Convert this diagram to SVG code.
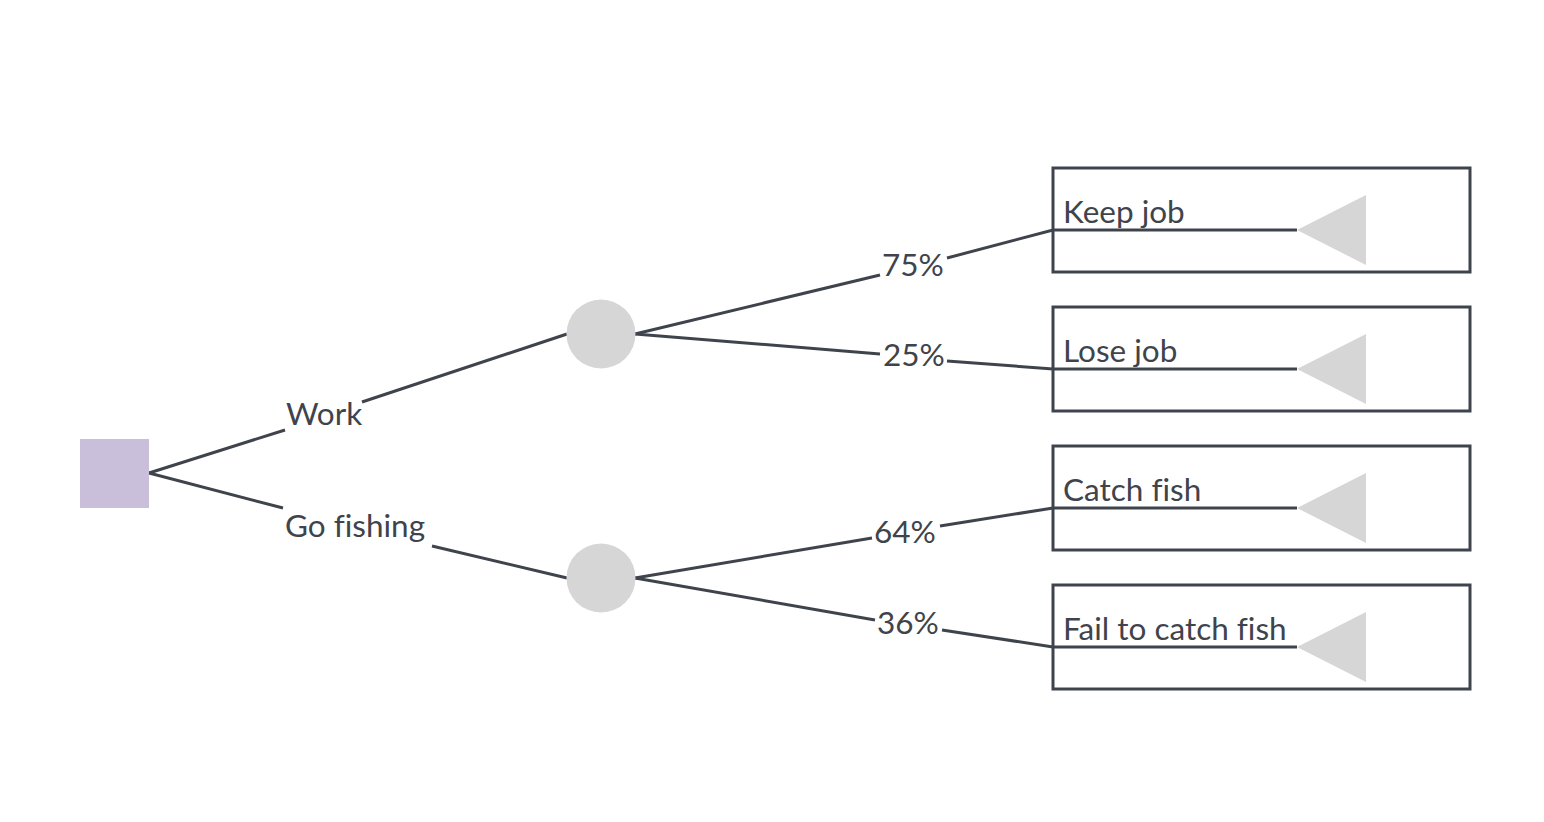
<svg xmlns="http://www.w3.org/2000/svg" width="1544" height="822" viewBox="0 0 1544 822">
<style>
.ln{fill:none;stroke:#3f444c;stroke-width:3}
.box{fill:#fff;stroke:#3f444c;stroke-width:3}
.tri{fill:#d6d6d6}
.chance{fill:#d6d6d6}
.t{font-family:Lato,"Noto Sans",sans-serif;font-size:31.5px;fill:#3f444c;font-variant-ligatures:none}
</style>
<rect width="1544" height="822" fill="#fff"/>
<g id="outcome-keep">
<rect class="box" x="1053" y="168" width="417" height="104"/>
<polygon class="tri" points="1297,230 1366,195 1366,265"/>
<text class="t" x="1063" y="223">Keep job</text>
</g>
<g id="outcome-lose">
<rect class="box" x="1053" y="307" width="417" height="104"/>
<polygon class="tri" points="1297,369 1366,334 1366,404"/>
<text class="t" x="1063" y="362">Lose job</text>
</g>
<g id="outcome-catch">
<rect class="box" x="1053" y="446" width="417" height="104"/>
<polygon class="tri" points="1297,508 1366,473 1366,543"/>
<text class="t" x="1063" y="501">Catch fish</text>
</g>
<g id="outcome-fail">
<rect class="box" x="1053" y="585" width="417" height="104"/>
<polygon class="tri" points="1297,647 1366,612 1366,682"/>
<text class="t" x="1063" y="640">Fail to catch fish</text>
</g>
<g id="connectors">
<polyline class="ln" points="149,473 285,430"/>
<polyline class="ln" points="362,402 567,334"/>
<polyline class="ln" points="149,473 283,508"/>
<polyline class="ln" points="432,546 567,578"/>
<polyline class="ln" points="635,334 880,275"/>
<polyline class="ln" points="947,258 1053,230 1297,230"/>
<polyline class="ln" points="635,334 880,354"/>
<polyline class="ln" points="947,361 1053,369 1297,369"/>
<polyline class="ln" points="635,578 872,538"/>
<polyline class="ln" points="940,526 1053,508 1297,508"/>
<polyline class="ln" points="635,578 875,620"/>
<polyline class="ln" points="942,630 1053,647 1297,647"/>
<text class="t" x="286" y="425">Work</text>
<text class="t" x="285" y="537">Go fishing</text>
<text class="t" x="882" y="276">75%</text>
<text class="t" x="883" y="366">25%</text>
<text class="t" x="874" y="543">64%</text>
<text class="t" x="877" y="634">36%</text>
</g>
<g id="decision">
<rect x="80" y="439" width="69" height="69" fill="#c9bfdb"/>
</g>
<g id="chance-work">
<circle class="chance" cx="601" cy="334" r="34.5"/>
</g>
<g id="chance-fish">
<circle class="chance" cx="601" cy="578" r="34.5"/>
</g>
</svg>
